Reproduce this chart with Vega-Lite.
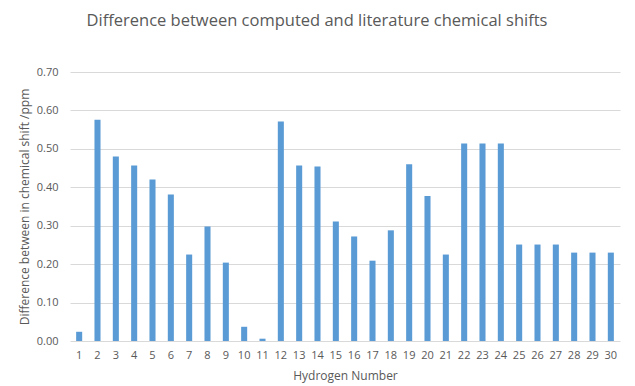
{
  "$schema": "https://vega.github.io/schema/vega-lite/v6.json",
  "autosize": {"type": "none"},
  "padding": {"left": 70, "top": 72, "right": 15, "bottom": 45},
  "width": 550,
  "height": 269,
  "background": "white",
  "title": {
    "text": "Difference between computed and literature chemical shifts",
    "font": "Open Sans",
    "fontSize": 16.5,
    "fontWeight": "normal",
    "color": "#595959",
    "anchor": "middle",
    "dx": -28,
    "offset": 37
  },
  "data": {
    "values": [
      {"h": 1, "d": 0.024}, {"h": 2, "d": 0.576}, {"h": 3, "d": 0.480}, {"h": 4, "d": 0.457},
      {"h": 5, "d": 0.420}, {"h": 6, "d": 0.381}, {"h": 7, "d": 0.225}, {"h": 8, "d": 0.298},
      {"h": 9, "d": 0.204}, {"h": 10, "d": 0.037}, {"h": 11, "d": 0.006}, {"h": 12, "d": 0.571},
      {"h": 13, "d": 0.457}, {"h": 14, "d": 0.454}, {"h": 15, "d": 0.311}, {"h": 16, "d": 0.272},
      {"h": 17, "d": 0.209}, {"h": 18, "d": 0.288}, {"h": 19, "d": 0.460}, {"h": 20, "d": 0.377},
      {"h": 21, "d": 0.225}, {"h": 22, "d": 0.514}, {"h": 23, "d": 0.514}, {"h": 24, "d": 0.514},
      {"h": 25, "d": 0.251}, {"h": 26, "d": 0.251}, {"h": 27, "d": 0.251}, {"h": 28, "d": 0.230},
      {"h": 29, "d": 0.230}, {"h": 30, "d": 0.230}
    ]
  },
  "mark": {"type": "bar", "color": "#5B9BD5"},
  "encoding": {
    "x": {
      "field": "h",
      "type": "ordinal",
      "scale": {"paddingInner": 0.67, "paddingOuter": 0.335},
      "axis": {
        "title": "Hydrogen Number",
        "labelAngle": 0,
        "domain": false,
        "ticks": false,
        "tickSize": 0,
        "labelPadding": 8,
        "labelFont": "Open Sans",
        "labelFontSize": 11,
        "labelColor": "#595959",
        "titleFont": "Open Sans",
        "titleFontSize": 12,
        "titleFontWeight": "normal",
        "titleColor": "#595959",
        "titlePadding": 10
      }
    },
    "y": {
      "field": "d",
      "type": "quantitative",
      "scale": {"domain": [0, 0.7], "nice": false},
      "axis": {
        "title": "Difference between in  chemical shift /ppm",
        "values": [0, 0.1, 0.2, 0.3, 0.4, 0.5, 0.6, 0.7],
        "format": ".2f",
        "domain": false,
        "ticks": false,
        "tickSize": 0,
        "labelPadding": 12,
        "gridColor": "#D9D9D9",
        "gridWidth": 1,
        "labelFont": "Open Sans",
        "labelFontSize": 11,
        "labelColor": "#595959",
        "titleFont": "Open Sans",
        "titleFontSize": 12,
        "titleFontWeight": "normal",
        "titleColor": "#595959",
        "titlePadding": 5
      }
    }
  },
  "config": {"view": {"stroke": null}}
}
